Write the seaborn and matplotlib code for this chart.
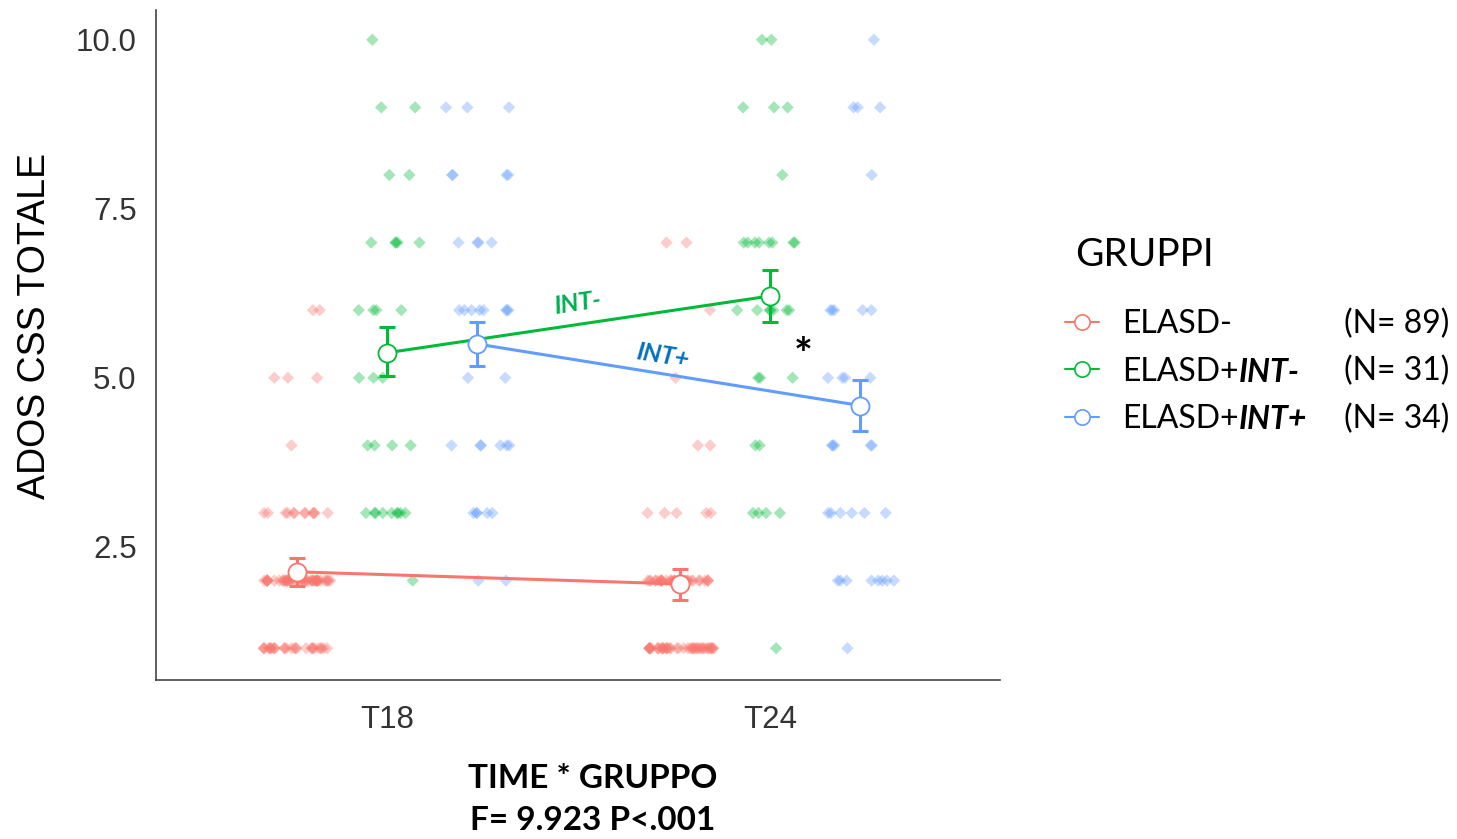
import numpy as np
import pandas as pd
import matplotlib
matplotlib.use("Agg")
import matplotlib.pyplot as plt
import seaborn as sns
from matplotlib.lines import Line2D

# ---------------- data ----------------
times = ["T18", "T24"]
groups = ["ELASD-", "ELASD+INT-", "ELASD+INT+"]
legend_base = ["ELASD-", "ELASD+", "ELASD+"]
legend_bold = ["", "INT-", "INT+"]
group_n = [89, 31, 34]
score_levels = [1, 2, 3, 4, 5, 6, 7, 8, 9, 10]

# number of subjects at each score level (1..10)
red_t18_counts = [27, 44, 12, 1, 3, 2, 0, 0, 0, 0]
red_t24_counts = [43, 35, 5, 2, 1, 1, 2, 0, 0, 0]
green_t18_counts = [0, 1, 9, 4, 3, 4, 5, 2, 2, 1]
green_t24_counts = [1, 0, 4, 2, 3, 7, 8, 1, 3, 2]
blue_t18_counts = [0, 2, 5, 6, 2, 8, 4, 4, 3, 0]
blue_t24_counts = [1, 8, 6, 5, 4, 5, 0, 1, 3, 1]

# estimated means and confidence intervals (T18, T24)
red_mean = [2.13, 1.95]
red_ci_low = [1.92, 1.72]
red_ci_high = [2.34, 2.17]
green_mean = [5.37, 6.21]
green_ci_low = [5.02, 5.82]
green_ci_high = [5.75, 6.60]
blue_mean = [5.50, 4.59]
blue_ci_low = [5.17, 4.22]
blue_ci_high = [5.83, 4.97]

# ---------------- style ----------------
palette = {"ELASD-": "#F8766D", "ELASD+INT-": "#00BA38", "ELASD+INT+": "#619CFF"}
dodge = {"ELASD-": -0.235, "ELASD+INT-": 0.0, "ELASD+INT+": 0.235}

sns.set_style("white")
plt.rcParams["font.family"] = ["Liberation Sans", "DejaVu Sans"]
plt.rcParams["text.color"] = "black"

W, H = 1457, 839
fig = plt.figure(figsize=(W / 100, H / 100), dpi=100)
ax = fig.add_axes([156 / W, 1 - 680 / H, (1000 - 156) / W, (680 - 10) / H])

# ---------------- raw points ----------------
count_table = {
    ("ELASD-", "T18"): red_t18_counts,
    ("ELASD-", "T24"): red_t24_counts,
    ("ELASD+INT-", "T18"): green_t18_counts,
    ("ELASD+INT-", "T24"): green_t24_counts,
    ("ELASD+INT+", "T18"): blue_t18_counts,
    ("ELASD+INT+", "T24"): blue_t24_counts,
}
rows = []
for (g, t), cnts in count_table.items():
    for lvl, c in zip(score_levels, cnts):
        for _ in range(c):
            rows.append({"group": g, "time": t,
                         "xpos": times.index(t) + dodge[g], "score": lvl})
raw = pd.DataFrame(rows)

np.random.seed(11)
sns.stripplot(data=raw, x="xpos", y="score", hue="group", hue_order=groups,
              palette=palette, native_scale=True, orient="x", jitter=0.38,
              marker="D", size=6.3, alpha=0.36, linewidth=0, legend=False,
              ax=ax, zorder=1)

# ---------------- means & CIs ----------------
mean_table = {
    "ELASD-": (red_mean, red_ci_low, red_ci_high),
    "ELASD+INT-": (green_mean, green_ci_low, green_ci_high),
    "ELASD+INT+": (blue_mean, blue_ci_low, blue_ci_high),
}
for g in groups:
    m, lo, hi = mean_table[g]
    dfm = pd.DataFrame({"xpos": [i + dodge[g] for i in range(len(times))],
                        "mean": m, "lo": lo, "hi": hi})
    c = palette[g]
    ax.errorbar(dfm["xpos"], dfm["mean"],
                yerr=[dfm["mean"] - dfm["lo"], dfm["hi"] - dfm["mean"]],
                fmt="none", ecolor=c, elinewidth=2.2, capsize=6, capthick=2.2,
                zorder=3)
    sns.lineplot(data=dfm, x="xpos", y="mean", color=c, marker="o",
                 markersize=13, markerfacecolor="white", markeredgecolor=c,
                 markeredgewidth=1.3, linewidth=2.2, ax=ax, zorder=4,
                 legend=False)

# ---------------- axes ----------------
ax.set_xlim(-0.603, 1.60)
ax.set_ylim(0.53, 10.44)
ax.set_xticks(range(len(times)))
ax.set_xticklabels(times)
ax.set_yticks([2.5, 5.0, 7.5, 10.0])
ax.set_yticklabels([f"{v:.1f}" for v in [2.5, 5.0, 7.5, 10.0]])
ax.set_xlabel("")
ax.set_ylabel("")
for s in ["top", "right"]:
    ax.spines[s].set_visible(False)
for s in ["left", "bottom"]:
    ax.spines[s].set_color("#444444")
    ax.spines[s].set_linewidth(1.2)
ax.tick_params(axis="both", length=6, width=1.2, color="#444444",
               labelsize=22.5, labelcolor="#333333")
ax.tick_params(axis="x", pad=12)
ax.tick_params(axis="y", pad=8)

fig.text(35 / W, 1 - 326 / H, "ADOS CSS TOTALE", rotation=90, ha="center",
         va="center", fontsize=27, color="black",
         family=["Liberation Sans", "DejaVu Sans"])

# in-plot annotations
ax.text(0.496, 6.10, "INT-", color="#00B050", fontsize=18, fontweight="bold",
        fontstyle="italic", rotation=8.5, rotation_mode="anchor",
        ha="center", va="center", family=["Lato", "DejaVu Sans"])
ax.text(0.718, 5.33, "INT+", color="#0070C0", fontsize=18, fontweight="bold",
        fontstyle="italic", rotation=-9, rotation_mode="anchor",
        ha="center", va="center", family=["Lato", "DejaVu Sans"])
ax.text(1.086, 5.32, "*", color="black", fontsize=32, fontweight="bold",
        ha="center", va="center", family=["Lato", "DejaVu Sans"])

# bottom statistics text
fig.text(593 / W, 1 - 779 / H, "TIME * GRUPPO", ha="center", va="center",
         fontsize=24, fontweight="bold", color="black",
         family=["Lato", "DejaVu Sans"])
fig.text(593 / W, 1 - 820 / H, "F= 9.923 P<.001", ha="center", va="center",
         fontsize=24, fontweight="bold", color="black",
         family=["Lato", "DejaVu Sans"])

# ---------------- legend ----------------
fig.text(1075 / W, 1 - 255 / H, "GRUPPI", ha="left", va="center",
         fontsize=28, color="black", family=["Lato", "DejaVu Sans"])

handles = [Line2D([0], [0], color=palette[g], lw=1.5, marker="o",
                  markersize=11, markerfacecolor="white",
                  markeredgecolor=palette[g], markeredgewidth=1.2)
           for g in groups]
leg = fig.legend(handles, legend_base, loc="upper left",
                 bbox_to_anchor=(1065 / W, 1 - 309 / H), frameon=False,
                 prop={"family": "Lato", "size": 23}, labelcolor="black",
                 handlelength=1.05, handletextpad=0.75, labelspacing=0.55,
                 borderpad=0.0, borderaxespad=0.0)

fig.canvas.draw()
renderer = fig.canvas.get_renderer()
for txt, bold, n in zip(leg.get_texts(), legend_bold, group_n):
    bb = txt.get_window_extent(renderer)
    if bold:
        fig.text(bb.x1 / W, bb.y0 / H, bold, ha="left", va="bottom",
                 fontsize=23, fontweight="bold", fontstyle="italic",
                 color="black", family=["Lato", "DejaVu Sans"])
    fig.text(1449 / W, bb.y0 / H, f"(N= {n})", ha="right", va="bottom",
             fontsize=23, color="black", family=["Lato", "DejaVu Sans"])

fig.savefig("out.png", dpi=100)
